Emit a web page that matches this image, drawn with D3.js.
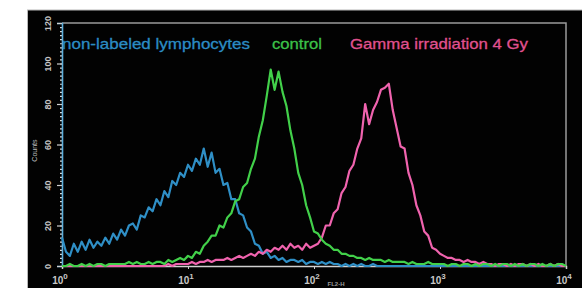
<!DOCTYPE html>
<html>
<head>
<meta charset="utf-8">
<script src="https://cdn.jsdelivr.net/npm/d3@7/dist/d3.min.js"></script>
<style>
  html, body { margin: 0; padding: 0; background: #fff; }
  svg { display: block; }
</style>
</head>
<body>
<svg id="chart" width="582" height="288"></svg>
<script>
// Flow cytometry histogram: 1/32-decade channels from 10^0 to 10^4
const seriesNames = ["non-labeled lymphocytes", "control", "Gamma irradiation 4 Gy"];
const seriesColors = ["#2f8fc6", "#42d04a", "#f063ae"];
const labelColors = ["#2b8cc4", "#3cc149", "#e0518f"];

const yTicks = [0, 20, 40, 60, 80, 100, 120];
const xTicks = [1, 10, 100, 1000, 10000];
const xTickExp = ["0", "1", "2", "3", "4"];

// counts per channel (index 0..128)
const nonLabeled = [
  14, 7, 5, 11, 7, 12, 8, 13, 9, 12, 10, 14, 11, 16, 13, 18, 15, 20, 21, 18,
  25, 24, 29, 27, 33, 30, 37, 34, 42, 40, 46, 44, 50, 47, 53, 50, 58, 49, 56, 46,
  48, 40, 41, 33, 33, 26, 25, 19, 17, 11, 10, 6, 7, 4, 5, 3, 4, 2, 3, 3,
  2, 3, 1, 2, 2, 1, 2, 1, 2, 1, 1, 0, 1, 0, 1, 0, 1, 0, 0, 1,
  0, 0, 0, 0, 0, 0, 0, 0, 0, 0, 0, 0, 0, 0, 0, 0, 0, 0, 0, 0,
  0, 0, 0, 0, 0, 0, 0, 0, 0, 0, 0, 0, 0, 0, 0, 0, 0, 0, 0, 0,
  0, 0, 0, 0, 0, 0, 0, 0, 0
];
const control = [
  0, 0, 1, 0, 0, 1, 0, 1, 0, 1, 1, 0, 1, 1, 1, 1, 1, 2, 1, 2,
  1, 1, 2, 1, 2, 2, 1, 3, 2, 3, 4, 3, 5, 4, 7, 6, 10, 12, 15, 15,
  20, 19, 24, 26, 32, 33, 39, 41, 48, 53, 64, 72, 84, 97, 87, 96, 86, 79, 67, 58,
  46, 40, 30, 24, 17, 16, 13, 11, 10, 8, 8, 6, 6, 5, 5, 4, 4, 3, 4, 3,
  3, 3, 2, 3, 2, 2, 2, 2, 1, 2, 1, 1, 1, 2, 1, 1, 1, 1, 0, 1,
  1, 0, 1, 1, 0, 1, 0, 1, 1, 0, 1, 0, 1, 1, 0, 1, 0, 1, 0, 1,
  1, 0, 1, 0, 1, 0, 1, 1, 0
];
const gamma = [
  0, 0, 0, 0, 0, 0, 0, 0, 0, 0, 0, 0, 0, 0, 0, 0, 0, 0, 0, 0,
  0, 0, 0, 0, 0, 0, 0, 1, 0, 1, 1, 1, 1, 2, 1, 2, 2, 3, 2, 3,
  3, 3, 4, 3, 4, 5, 4, 5, 6, 5, 7, 6, 8, 7, 9, 8, 10, 8, 11, 9,
  10, 8, 11, 9, 10, 11, 14, 20, 20, 26, 28, 36, 39, 47, 50, 58, 63, 80, 70, 77,
  81, 87, 88, 90, 77, 68, 59, 58, 46, 40, 30, 25, 17, 15, 9, 8, 6, 5, 4, 4,
  3, 3, 2, 3, 2, 2, 1, 2, 1, 1, 0, 1, 1, 0, 1, 0, 1, 1, 0, 1,
  0, 1, 0, 0, 1, 0, 1, 0, 0
];
const seriesValues = [nonLabeled, control, gamma];
const channels = d3.range(nonLabeled.length).map(i => Math.pow(10, i / 32));

const svg = d3.select("#chart");

// black panel
svg.append("rect")
  .attr("x", 27.5).attr("y", 10)
  .attr("width", 560).attr("height", 290)
  .attr("fill", "#020202")
  .attr("stroke", "#b8b8b8").attr("stroke-width", 1);

const x = d3.scaleLog().domain([1, 10000]).range([62, 566]);
const y = d3.scaleLinear().domain([0, 120]).range([266, 23]);

// frame (top + right)
svg.append("path")
  .attr("d", `M${x(1)},${y(120)}H${x(10000)}V${y(0)}`)
  .attr("fill", "none")
  .attr("stroke", "#9a9a9a")
  .attr("stroke-width", 1.5);

// y axis minor ticks
const yMinor = svg.append("g")
  .attr("transform", `translate(${x(1)},0)`)
  .call(d3.axisLeft(y).tickValues(d3.range(0, 121, 2)).tickSize(2).tickFormat(""));
yMinor.select(".domain").remove();
yMinor.selectAll("line").attr("stroke", "#d8d8d8").attr("stroke-width", 1.2);

// y axis major
const yAxis = svg.append("g")
  .attr("transform", `translate(${x(1)},0)`)
  .call(d3.axisLeft(y).tickValues(yTicks).tickSize(5).tickPadding(0));
yAxis.select(".domain").attr("stroke", "#5fb0dc").attr("stroke-width", 1.6);
yAxis.selectAll(".tick line").attr("stroke", "#cfcfcf").attr("stroke-width", 1.2);
yAxis.selectAll(".tick text")
  .attr("x", 0).attr("dy", 0)
  .attr("transform", "translate(-11,0) rotate(-90)")
  .attr("text-anchor", "middle")
  .attr("fill", "#c4c4c4")
  .style("font", "bold 9px 'Liberation Sans', Arial, sans-serif");

// x axis
const xAxis = svg.append("g")
  .attr("transform", `translate(0,${y(0)})`)
  .call(d3.axisBottom(x).tickValues(xTicks).tickSize(3).tickFormat(""));
xAxis.select(".domain").attr("stroke", "#d0d0d0").attr("stroke-width", 1.5);
xAxis.selectAll(".tick line").attr("stroke", "#d0d0d0");

const xLab = svg.append("g");
xTicks.forEach((v, i) => {
  const t = xLab.append("text")
    .attr("x", x(v) - 2).attr("y", 284)
    .attr("text-anchor", "middle")
    .attr("fill", "#c8c8c8")
    .style("font", "bold 10px 'Liberation Sans', Arial, sans-serif");
  t.append("tspan").text("10");
  t.append("tspan").attr("dy", -5).style("font-size", "8px").text(xTickExp[i]);
});

// axis titles
svg.append("text")
  .attr("transform", `translate(37,${y(57)}) rotate(-90)`)
  .attr("text-anchor", "middle")
  .attr("fill", "#bdbdbd")
  .style("font", "7px 'Liberation Sans', Arial, sans-serif")
  .text("Counts");

svg.append("text")
  .attr("x", 336).attr("y", 286)
  .attr("text-anchor", "middle")
  .attr("fill", "#9a9a9a")
  .style("font", "bold 6px 'Liberation Sans', Arial, sans-serif")
  .text("FL2-H");

// histogram lines
const line = d3.line()
  .x((d, i) => x(channels[i]))
  .y(d => y(d));

[0, 2, 1].forEach(k => {
  svg.append("path")
    .datum(seriesValues[k])
    .attr("d", line)
    .attr("fill", "none")
    .attr("stroke", seriesColors[k])
    .attr("stroke-width", 2.2)
    .attr("stroke-linejoin", "round");
});

// legend labels
const legendX = [62, 272, 350];
const legendW = [188, 50, 178];
seriesNames.forEach((name, i) => {
  svg.append("text")
    .attr("x", legendX[i]).attr("y", 49)
    .attr("fill", labelColors[i])
    .attr("stroke", labelColors[i])
    .attr("stroke-width", 0.3)
    .attr("textLength", legendW[i])
    .attr("lengthAdjust", "spacingAndGlyphs")
    .style("font", "15px 'Liberation Sans', Arial, sans-serif")
    .text(name);
});
</script>
</body>
</html>
